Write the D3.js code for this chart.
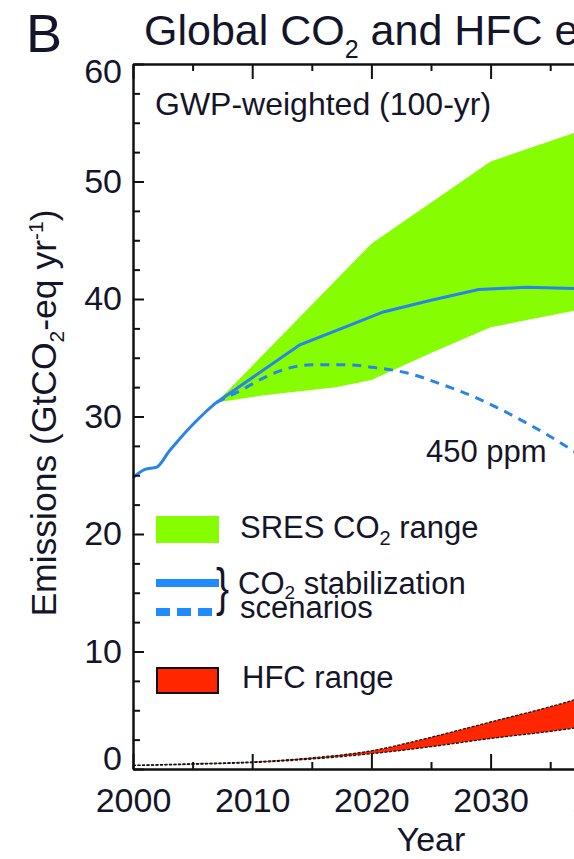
<!DOCTYPE html>
<html>
<head>
<meta charset="utf-8">
<script src="https://cdn.jsdelivr.net/npm/d3@7"></script>
<style>
  html, body { margin: 0; padding: 0; background: #fff; }
  svg { display: block; }
  text { font-family: "Liberation Sans", Arial, Helvetica, sans-serif; fill: #15152a; }
</style>
</head>
<body>
<svg id="chart" width="574" height="859"></svg>
<script>
// ---- Emissions data (GtCO2-eq per year, GWP-weighted, 100-yr) ----
const historicalYears = [2000, 2001, 2002, 2003, 2004, 2005, 2006, 2007];
const historicalCO2   = [24.8, 25.5, 25.7, 27.0, 28.2, 29.3, 30.3, 31.2];

// CO2 stabilization scenarios
const stabSolidYears  = [2007, 2010, 2014, 2018, 2021, 2025, 2029, 2033, 2037, 2041];
const stabSolidValues = [31.2, 33.3, 36.1, 37.7, 38.9, 39.9, 40.8, 41.0, 40.9, 40.9];
const stab450Years    = [2007, 2009, 2011, 2013, 2015, 2018, 2020, 2023, 2026, 2029, 2032, 2035, 2038, 2041];
const stab450Values   = [31.2, 32.2, 33.3, 34.1, 34.4, 34.4, 34.2, 33.7, 32.7, 31.5, 30.0, 28.3, 26.4, 24.4];

// SRES CO2 range (upper and lower envelope)
const sresUpperYears  = [2007, 2020, 2030, 2041];
const sresUpper       = [31.2, 44.7, 51.7, 55.5];
const sresLowerYears  = [2007, 2011, 2017, 2020, 2025, 2030, 2041];
const sresLower       = [31.2, 31.8, 32.5, 33.1, 35.4, 37.6, 39.8];

// HFC range
const hfcYears = [2000, 2005, 2010, 2015, 2020, 2025, 2030, 2035, 2041];
const hfcUpper = [0.30, 0.45, 0.60, 0.95, 1.55, 2.70, 4.00, 5.30, 7.10];
const hfcLower = [0.30, 0.40, 0.55, 0.85, 1.30, 1.90, 2.60, 3.20, 4.10];

// Axis ticks
const xMajorTicks = [2000, 2010, 2020, 2030, 2040];
const xMinorTicks = [2005, 2015, 2025, 2035, 2045];
const yMajorTicks = [0, 10, 20, 30, 40, 50, 60];
const yMinorTicks = d3.range(0, 60.01, 2.5).filter(v => v % 10 !== 0);

const COLORS = { green: "#86fd00", blue: "#2884ea", legendBlue: "#1f8bff", red: "#ff2600", ink: "#15152a" };

const svg = d3.select("#chart");

const x = d3.scaleLinear().domain([2000, 2050]).range([133, 729]);
const y = d3.scaleLinear().domain([0, 60]).range([769, 64]);

const pts = (xs, ys) => xs.map((d, i) => [d, ys[i]]);
const line = d3.line().x(d => x(d[0])).y(d => y(d[1]));
const smooth = d3.line().x(d => x(d[0])).y(d => y(d[1])).curve(d3.curveMonotoneX);

// ---- Title ----
svg.append("text").attr("x", 26).attr("y", 52).attr("font-size", 54).text("B");
const title = svg.append("text").attr("x", 144).attr("y", 45).attr("font-size", 43);
title.append("tspan").text("Global CO");
title.append("tspan").attr("font-size", 25).attr("dy", 13).text("2");
title.append("tspan").attr("dy", -13).text(" and HFC emissions");

// ---- SRES CO2 range ----
const sresPoly = pts(sresUpperYears, sresUpper).concat(pts(sresLowerYears, sresLower).reverse());
svg.append("path").attr("d", line(sresPoly) + "Z").attr("fill", COLORS.green);

// ---- HFC range ----
const hfcArea = d3.area().x(d => x(d[0])).y0(d => y(d[2])).y1(d => y(d[1])).curve(d3.curveMonotoneX);
const hfcData = hfcYears.map((d, i) => [d, hfcUpper[i], hfcLower[i]]);
svg.append("path").attr("d", hfcArea(hfcData)).attr("fill", COLORS.red);
[hfcUpper, hfcLower].forEach(series => {
  svg.append("path").attr("d", smooth(pts(hfcYears, series)))
    .attr("fill", "none").attr("stroke", "#111").attr("stroke-width", 1.3)
    .attr("stroke-dasharray", "3,1.5");
});

// ---- CO2 lines ----
svg.append("path").attr("d", smooth(pts(historicalYears, historicalCO2)))
  .attr("fill", "none").attr("stroke", COLORS.blue).attr("stroke-width", 3);
svg.append("path").attr("d", line(pts(stabSolidYears, stabSolidValues)))
  .attr("fill", "none").attr("stroke", COLORS.blue).attr("stroke-width", 3);
svg.append("path").attr("d", smooth(pts(stab450Years, stab450Values)))
  .attr("fill", "none").attr("stroke", COLORS.blue).attr("stroke-width", 3)
  .attr("stroke-dasharray", "9,7");

// ---- Axes (ticks point inward) ----
function styleAxis(g) {
  g.selectAll(".domain").attr("stroke", "#111").attr("stroke-width", 2);
  g.selectAll(".tick line").attr("stroke", "#111").attr("stroke-width", 2);
  g.selectAll("text").attr("font-family", null).attr("font-size", null).attr("fill", COLORS.ink);
}

// bottom
const xb = svg.append("g").attr("transform", `translate(0,${y(0)})`)
  .call(d3.axisBottom(x).tickValues(xMajorTicks).tickSize(-15).tickSizeOuter(0)
    .tickPadding(19).tickFormat(d3.format("d")));
styleAxis(xb);
xb.selectAll("text").style("font-size", "34px");
svg.append("g").attr("transform", `translate(0,${y(0)})`)
  .call(d3.axisBottom(x).tickValues(xMinorTicks).tickSize(-7).tickSizeOuter(0).tickFormat(""))
  .call(styleAxis);

// top
svg.append("g").attr("transform", `translate(0,${y(60)})`)
  .call(d3.axisTop(x).tickValues(xMajorTicks).tickSize(-15).tickSizeOuter(0).tickFormat(""))
  .call(styleAxis);
svg.append("g").attr("transform", `translate(0,${y(60)})`)
  .call(d3.axisTop(x).tickValues(xMinorTicks).tickSize(-7).tickSizeOuter(0).tickFormat(""))
  .call(styleAxis);

// left
const yl = svg.append("g").attr("transform", `translate(${x(2000)},0)`)
  .call(d3.axisLeft(y).tickValues(yMajorTicks).tickSize(-11).tickSizeOuter(0).tickPadding(11));
styleAxis(yl);
yl.selectAll("text").style("font-size", "34px");
yl.selectAll(".tick").filter(d => d === 60).select("text").attr("transform", "translate(0,8)");
yl.selectAll(".tick").filter(d => d === 0).select("text").attr("transform", "translate(0,-10)");
svg.append("g").attr("transform", `translate(${x(2000)},0)`)
  .call(d3.axisLeft(y).tickValues(yMinorTicks).tickSize(-7).tickSizeOuter(0).tickFormat(""))
  .call(styleAxis);

// ---- Axis titles ----
svg.append("text").attr("x", x(2025)).attr("y", 851).attr("text-anchor", "middle")
  .attr("font-size", 34).text("Year");

const ylab = svg.append("text").attr("transform", "translate(56,413) rotate(-90)")
  .attr("text-anchor", "middle").attr("font-size", 35.5);
ylab.append("tspan").text("Emissions (GtCO");
ylab.append("tspan").attr("font-size", 21).attr("dy", 8).text("2");
ylab.append("tspan").attr("dy", -8).text("-eq yr");
ylab.append("tspan").attr("font-size", 21).attr("dy", -13).text("-1");
ylab.append("tspan").attr("dy", 13).text(")");

// ---- Annotations ----
svg.append("text").attr("x", 155).attr("y", 115).attr("font-size", 32).text("GWP-weighted (100-yr)");
svg.append("text").attr("x", 426).attr("y", 462).attr("font-size", 31).text("450 ppm");

// ---- Legend ----
svg.append("rect").attr("x", 156).attr("y", 516).attr("width", 63).attr("height", 27).attr("fill", COLORS.green);
const t1 = svg.append("text").attr("x", 240).attr("y", 538).attr("font-size", 31);
t1.append("tspan").text("SRES CO");
t1.append("tspan").attr("font-size", 20).attr("dy", 7).text("2");
t1.append("tspan").attr("dy", -7).text(" range");

svg.append("line").attr("x1", 156).attr("x2", 219).attr("y1", 583).attr("y2", 583)
  .attr("stroke", COLORS.legendBlue).attr("stroke-width", 8);
svg.append("line").attr("x1", 156).attr("x2", 213).attr("y1", 612).attr("y2", 612)
  .attr("stroke", COLORS.legendBlue).attr("stroke-width", 8).attr("stroke-dasharray", "14,7");
svg.append("text").attr("x", 216).attr("y", 605).attr("font-size", 52)
  .attr("transform", "translate(216,0) scale(0.75,1) translate(-216,0)").text("}");
const t2 = svg.append("text").attr("x", 238).attr("y", 594).attr("font-size", 31);
t2.append("tspan").text("CO");
t2.append("tspan").attr("font-size", 19).attr("dy", 5).text("2");
t2.append("tspan").attr("dy", -5).text(" stabilization");
svg.append("text").attr("x", 240).attr("y", 618).attr("font-size", 31).text("scenarios");

svg.append("rect").attr("x", 157).attr("y", 668).attr("width", 61).attr("height", 25)
  .attr("fill", COLORS.red).attr("stroke", "#111").attr("stroke-width", 2);
svg.append("text").attr("x", 242).attr("y", 688).attr("font-size", 31).text("HFC range");
</script>
</body>
</html>
